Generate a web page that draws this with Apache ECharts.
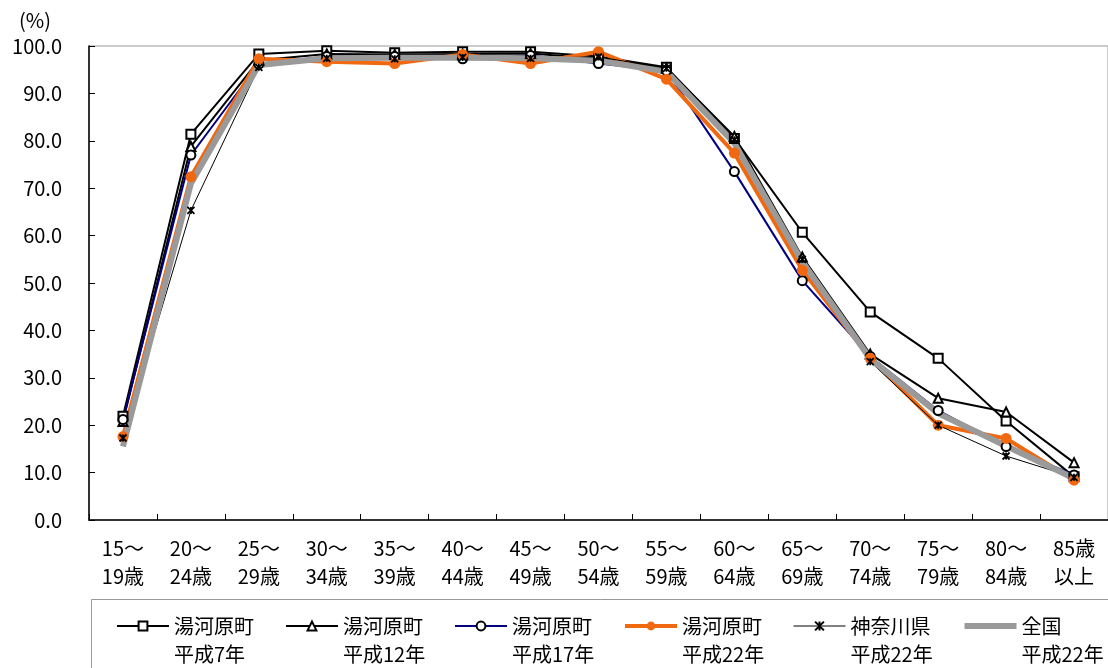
<!DOCTYPE html>
<html>
<head>
<meta charset="utf-8">
<script src="https://cdn.jsdelivr.net/npm/echarts@6/dist/echarts.min.js"></script>
<style>
  html, body { margin: 0; padding: 0; background: #fff; }
  #chart { width: 1108px; height: 668px; }
</style>
</head>
<body>
<div id="chart"></div>
<script>
// Age groups (x axis)
const ageGroups = [
  '15～\n19歳', '20～\n24歳', '25～\n29歳', '30～\n34歳', '35～\n39歳',
  '40～\n44歳', '45～\n49歳', '50～\n54歳', '55～\n59歳', '60～\n64歳',
  '65～\n69歳', '70～\n74歳', '75～\n79歳', '80～\n84歳', '85歳\n以上'
];

// Labour force participation rate (%) by age group
const yugawaraH7  = [21.9, 81.4, 98.3, 99.0, 98.6, 98.8, 98.8, 97.8, 95.5, 80.5, 60.7, 43.9, 34.1, 20.9, 9.1];
const yugawaraH12 = [20.8, 78.8, 97.0, 98.3, 98.2, 98.3, 98.4, 97.3, 95.3, 80.9, 55.5, 35.0, 25.7, 22.8, 12.1];
const yugawaraH17 = [21.2, 77.0, 96.2, 97.8, 97.8, 97.3, 98.0, 96.3, 94.8, 73.5, 50.5, 34.5, 23.1, 15.5, 9.5];
const yugawaraH22 = [17.6, 72.4, 97.3, 96.7, 96.3, 98.2, 96.3, 98.8, 93.0, 77.4, 52.7, 34.1, 20.0, 17.2, 8.4];
const kanagawaH22 = [17.3, 65.3, 95.5, 97.4, 97.3, 97.6, 97.4, 97.7, 95.3, 80.2, 55.0, 33.4, 20.0, 13.5, 9.0];
const nationalH22 = [15.5, 71.0, 96.0, 97.4, 97.5, 97.5, 97.4, 96.9, 94.6, 79.5, 54.5, 34.0, 22.5, 15.6, 8.8];

// Series names: [area, year]
const seriesNames = [
  ['湯河原町', '平成7年'],
  ['湯河原町', '平成12年'],
  ['湯河原町', '平成17年'],
  ['湯河原町', '平成22年'],
  ['神奈川県', '平成22年'],
  ['全国', '平成22年']
];

const FONT = '"Noto Sans CJK JP", "Noto Sans", sans-serif';
const ORANGE = '#F06810';
const NAVY = '#000080';
const GREY = '#9a9a9a';
const ASTERISK = 'path://M0,0L10,10M10,0L0,10M5,0L5,10';

const nm = i => seriesNames[i].join(' ');

const chart = echarts.init(document.getElementById('chart'));
chart.setOption({
  animation: false,
  backgroundColor: '#fff',
  textStyle: { fontFamily: FONT, color: '#000' },
  title: {
    text: '(%)', left: 14, top: 5,
    textStyle: { fontFamily: FONT, fontSize: 20, fontWeight: 'normal', color: '#000' }
  },
  graphic: [{
    type: 'rect', left: 89, top: 597, z: -1,
    shape: { width: 1060, height: 120 },
    style: { fill: 'none', stroke: '#999', lineWidth: 1 }
  }],
  grid: {
    left: 89, top: 46, bottom: 148, right: -11,
    show: true, borderColor: '#999', borderWidth: 1, backgroundColor: 'transparent'
  },
  legend: {
    left: 116, top: 584, padding: 0, width: 1300,
    itemWidth: 52, itemHeight: 11, itemGap: 6,
    formatter: name => '\n' + name.split(' ').join('\n'),
    textStyle: { fontFamily: FONT, fontSize: 20, lineHeight: 28, color: '#000', width: 105, overflow: 'none' },
    data: [
      { name: nm(0), lineStyle: { width: 2 } },
      { name: nm(1), lineStyle: { width: 2 } },
      { name: nm(2), lineStyle: { width: 2 } },
      { name: nm(3), lineStyle: { width: 4 } },
      { name: nm(4), lineStyle: { width: 1 } },
      { name: nm(5), lineStyle: { width: 6 }, itemStyle: { opacity: 0 } }
    ]
  },
  xAxis: {
    type: 'category', data: ageGroups, boundaryGap: true,
    axisLine: { lineStyle: { color: '#000', width: 1.5 } },
    axisTick: { show: true, inside: true, length: 6, lineStyle: { color: '#000' } },
    axisLabel: { fontFamily: FONT, fontSize: 20, lineHeight: 28, color: '#000', margin: 14, interval: 0 },
    splitLine: { show: false }
  },
  yAxis: {
    type: 'value', min: 0, max: 100, interval: 10,
    axisLine: { show: true, lineStyle: { color: '#000', width: 1.5 } },
    axisTick: { show: true, inside: true, length: 6, lineStyle: { color: '#000' } },
    axisLabel: { fontFamily: FONT, fontSize: 20, color: '#000', margin: 27, formatter: v => v.toFixed(1) },
    splitLine: { show: false }
  },
  series: [
    {
      name: nm(0), type: 'line', data: yugawaraH7,
      symbol: 'emptyRect', symbolSize: 9,
      lineStyle: { color: '#000', width: 2 },
      itemStyle: { color: '#000', borderWidth: 1.5 }
    },
    {
      name: nm(1), type: 'line', data: yugawaraH12,
      symbol: 'emptyTriangle', symbolSize: 9,
      lineStyle: { color: '#000', width: 2 },
      itemStyle: { color: '#000', borderWidth: 1.5 }
    },
    {
      name: nm(2), type: 'line', data: yugawaraH17,
      symbol: 'emptyCircle', symbolSize: 9,
      lineStyle: { color: NAVY, width: 2 },
      itemStyle: { color: '#000', borderWidth: 1.5 }
    },
    {
      name: nm(3), type: 'line', data: yugawaraH22,
      symbol: 'circle', symbolSize: 11,
      lineStyle: { color: ORANGE, width: 4 },
      itemStyle: { color: ORANGE }
    },
    {
      name: nm(4), type: 'line', data: kanagawaH22,
      symbol: ASTERISK, symbolSize: 7,
      lineStyle: { color: '#000', width: 1 },
      itemStyle: { color: '#000', borderColor: '#000', borderWidth: 1.8 }
    },
    {
      name: nm(5), type: 'line', data: nationalH22,
      symbol: 'none',
      lineStyle: { color: GREY, width: 6 },
      itemStyle: { color: GREY }
    }
  ]
});
</script>
</body>
</html>
